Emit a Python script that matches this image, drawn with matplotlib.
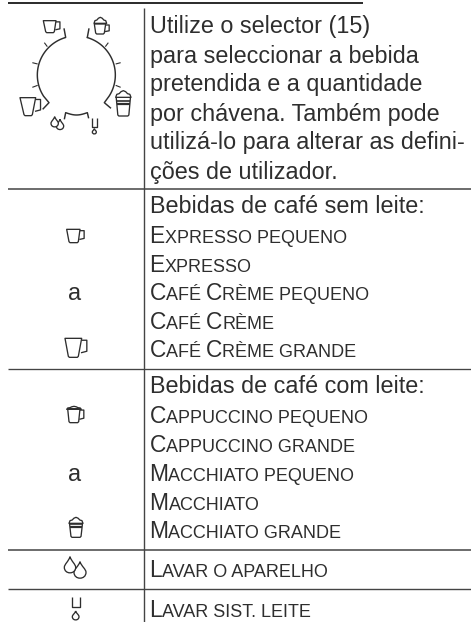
import re
import numpy as np
import matplotlib
matplotlib.use("Agg")
import matplotlib.pyplot as plt
from matplotlib.path import Path
from matplotlib.patches import PathPatch

# ---- content ----
intro_lines = ["Utilize o selector (15)", "para seleccionar a bebida", "pretendida e a quantidade",
               "por chávena. Também pode", "utilizá-lo para alterar as defini-", "ções de utilizador."]
black_header = "Bebidas de café sem leite:"
black_items = ["Expresso pequeno", "Expresso", "Café Crème pequeno", "Café Crème", "Café Crème grande"]
milk_header = "Bebidas de café com leite:"
milk_items = ["Cappuccino pequeno", "Cappuccino grande", "Macchiato pequeno", "Macchiato", "Macchiato grande"]
rinse_label = "Lavar o aparelho"
milk_rinse_label = "Lavar sist. leite"
between_mark = "a"

# ---- layout ----
W, H = 471, 622
INK = "#2e2e2e"
FONT = "Liberation Sans"
BIG = 16.8
CAP = 16.4
SMALL = 13.0
TEXT_X = 151
intro_y = [33, 62.5, 91.5, 120.5, 149.5, 178.5]
black_header_y = 213
black_y = [242.7, 271.7, 299.6, 329, 357.3]
milk_header_y = 392.7
milk_y = [422.7, 451.7, 481, 510, 537.7]
rinse_y = 577.3
milk_rinse_y = 617

fig = plt.figure(figsize=(W / 100, H / 100), dpi=100)
ax = fig.add_axes([0, 0, 1, 1])
ax.set_xlim(0, W)
ax.set_ylim(H, 0)
ax.axis("off")
renderer = fig.canvas.get_renderer()
LW = 0.95


def body(x, y, s, ha="left"):
    ax.text(x, y, s, family=FONT, fontsize=BIG, color=INK, ha=ha, va="baseline")


def smallcaps(x, y, s):
    """Draw s in small caps, as runs of large and small capitals."""
    for run in re.findall(r"[A-ZÉÈ]+|[^A-ZÉÈ]+", s):
        large = run[0].isupper()
        t = ax.text(x, y, run.upper(), family=FONT, fontsize=CAP if large else SMALL,
                    color=INK, ha="left", va="baseline")
        x += t.get_window_extent(renderer).width


def line(pts, lw=LW, fc="none", closed=False, z=3):
    p = np.array(pts, dtype=float) / 3.0
    codes = [Path.MOVETO] + [Path.LINETO] * (len(p) - 1)
    if closed:
        p = np.vstack([p, p[0]])
        codes.append(Path.CLOSEPOLY)
    ax.add_patch(PathPatch(Path(p, codes), fc=fc, ec=INK, lw=lw, zorder=z, joinstyle="round"))


def cup(tl, tr, bl, br, top, bottom):
    """Cup outline and handle, given in 3x-zoom pixels."""
    line([(tl, top), (bl, bottom - 3), (bl + 3, bottom), (br - 3, bottom), (br, bottom - 3), (tr, top)], closed=True)
    h = bottom - top
    hx = tr + (tr - tl) * 0.31
    line([(tr, top + h * .1), (hx, top + h * .1), (hx, top + h * .68), (tr - 2, top + h * .76)])


def foam(cx, half, base, peak):
    xs = np.array([-1, -.85, -.55, -.3, 0, .3, .55, .85, 1]) * half + cx
    t = base - peak
    ys = base - np.array([0, .45, .55, .85, 1, .85, .55, .45, 0]) * t
    line(list(zip(xs, ys)), closed=True)


def drop(cx, cy, r, top):
    k = np.array([[cx, top], [cx - r * .25, top + (cy - top) * .45], [cx - r, cy - r * .55], [cx - r, cy],
                  [cx - r, cy + r * 1.3], [cx + r, cy + r * 1.3], [cx + r, cy],
                  [cx + r, cy - r * .55], [cx + r * .25, top + (cy - top) * .45], [cx, top]]) / 3.0
    codes = [Path.MOVETO] + [Path.CURVE4] * 9
    ax.add_patch(PathPatch(Path(k, codes), fc="white", ec=INK, lw=LW, zorder=3))


def drain(l, r, top, bottom, dcx, dcy, dr, dtop):
    line([(l, top), (l, bottom), (r, bottom), (r, top)])
    drop(dcx, dcy, dr, dtop)


def macchiato(cx, half, dome, peak, band1, band2, bottom):
    foam(cx, half, dome, peak)
    bot = half * .72
    line([(cx - half * .93, dome), (cx - bot, bottom - 3), (cx - bot + 3, bottom), (cx + bot - 3, bottom),
          (cx + bot, bottom - 3), (cx + half * .93, dome)])
    line([(cx - half * .93, band1), (cx + half * .93, band1)], lw=1.2)
    line([(cx - half * .88, band2), (cx + half * .88, band2)], lw=1.6)


# ---- rules ----
ax.plot([8, 363], [3, 3], color="#222222", lw=1.35, solid_capstyle="butt")
ax.plot([143.5, 143.5], [8, H], color="#444444", lw=1.0, solid_capstyle="butt")
for y, lw in zip([188.5, 369, 550, 589], [1.1, 0.95, 1.1, 1.0]):
    ax.plot([8, W], [y, y], color="#444444", lw=lw, solid_capstyle="butt")

# ---- right column text ----
for y, s in zip(intro_y, intro_lines):
    body(TEXT_X - 1, y, s)
body(TEXT_X - 1, black_header_y, black_header)
for y, s in zip(black_y, black_items):
    smallcaps(TEXT_X - 1.5, y, s)
body(TEXT_X - 1, milk_header_y, milk_header)
for y, s in zip(milk_y, milk_items):
    smallcaps(TEXT_X - 1.5, y, s)
smallcaps(TEXT_X - 1.5, rinse_y, rinse_label)
smallcaps(TEXT_X - 1.5, milk_rinse_y, milk_rinse_label)

# ---- left column ----
body(75, black_y[2], between_mark, ha="center")
body(75, milk_y[2], between_mark, ha="center")

# dial (3x-zoom pixel geometry)
CX, CY, R = 229, 225, 117


def arc(a0, a1):
    a = np.radians(np.linspace(a0, a1, 60))
    return list(zip(CX + R * np.cos(a), CY - R * np.sin(a)))


left = arc(106, 213)
right = arc(74, -33)
line([(192, 85), (197, 112)] + left + [(147, 308), (128, 328)], lw=1.05)
line([(267, 85), (262, 112)] + right + [(313, 308), (333, 325)], lw=1.05)
for pts in [[(133, 128), (142, 140)], [(97, 188), (113, 192)], [(97, 262), (113, 256)],
            [(325, 128), (316, 140)], [(362, 188), (347, 192)], [(362, 262), (347, 256)]]:
    line(pts, lw=0.8)
a = np.linspace(0, 1, 20)
line([(193, 358), (197, 338)] + list(zip(197 + 65 * a, 338 + 7 * np.sin(a * np.pi))) + [(266, 355)], lw=1.05)

# dial icons
cup(130, 168, 137, 163, 62, 98)
foam(301, 19, 70, 52)
cup(283, 317, 287, 313, 72, 102)
cup(60, 107, 72, 97, 293, 347)
macchiato(370, 23, 292, 272, 304, 313, 348)
drop(180, 378, 11, 358)
drop(164, 370, 11, 350)
drain(276, 291, 355, 380, 283, 396, 6, 386)

# table icons
Y200 = 3 * 200
Y410 = 3 * 410
cup(200, 240, 207, 235, Y200 + 88, Y200 + 128)
cup(195, 245, 205, 235, Y200 + 415, Y200 + 472)
foam(222, 22, Y410 - 2, Y410 - 11)
cup(203, 240, 207, 236, Y410 - 4, Y410 + 38)
macchiato(228, 21, Y410 + 340, Y410 + 322, Y410 + 342, Y410 + 351, Y410 + 382)
drop(240, Y410 + 487, 18, Y410 + 455)
drop(210, Y410 + 472, 17, Y410 + 440)
drain(215, 240, Y410 + 562, Y410 + 590, 227, Y410 + 620, 10, Y410 + 603)

fig.savefig("out.png", dpi=100, facecolor="white")
